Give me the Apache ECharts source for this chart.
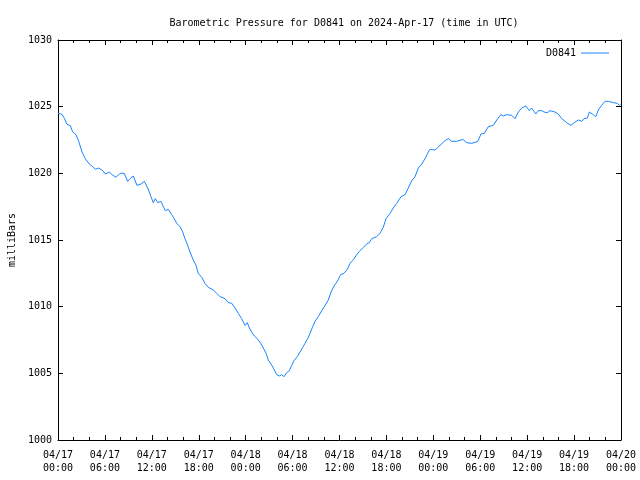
<!DOCTYPE html>
<html>
<head>
<meta charset="utf-8">
<script src="https://cdn.jsdelivr.net/npm/echarts@6/dist/echarts.min.js"></script>
<style>html,body{margin:0;padding:0;background:#fff}#c{width:640px;height:480px}</style>
</head>
<body>
<div id="c"></div>
<script>
// hours since 2024-04-17 00:00 UTC
const hours = [0.0,0.51,0.81,1.15,1.57,1.88,2.30,2.65,3.07,3.49,4.00,4.44,4.77,5.21,5.72,6.05,6.56,6.91,7.42,7.93,8.48,8.91,9.21,9.63,10.10,10.62,11.04,11.47,11.89,12.19,12.44,12.75,13.17,13.47,13.72,14.11,14.54,14.87,15.18,15.60,15.95,16.24,16.59,16.88,17.30,17.65,17.94,18.38,18.80,19.22,19.86,20.30,20.72,21.36,21.78,22.22,22.64,23.06,23.49,23.92,24.21,24.47,24.77,25.11,25.49,25.92,26.26,26.60,26.90,27.24,27.54,27.97,28.30,28.61,28.90,29.25,29.58,29.89,30.18,30.60,30.95,31.30,31.59,31.93,32.23,32.57,32.87,33.29,33.73,34.15,34.57,34.92,35.30,35.72,36.16,36.58,37.00,37.34,37.77,38.20,38.62,39.05,39.48,39.81,40.12,40.76,41.18,41.60,41.95,42.46,42.88,43.32,43.87,44.38,44.80,45.24,45.66,46.08,46.52,46.94,47.36,47.58,48.22,48.86,49.49,49.92,50.35,50.99,51.20,51.76,52.27,52.91,53.04,53.20,53.68,54.10,54.52,55.03,55.67,56.11,56.62,56.95,57.30,58.03,58.45,58.87,59.30,59.82,60.02,60.27,60.58,60.79,61.09,61.43,61.86,62.16,62.41,62.58,62.92,63.56,63.98,64.42,65.06,65.57,66.03,66.54,66.98,67.27,67.69,67.95,68.46,68.77,69.10,69.53,69.96,70.38,71.02,71.53,71.79,71.97];
const pressure = [1024.5,1024.43,1024.13,1023.68,1023.58,1023.1,1022.9,1022.4,1021.6,1021.1,1020.7,1020.5,1020.3,1020.4,1020.2,1019.95,1020.1,1019.9,1019.7,1020.0,1020.0,1019.4,1019.6,1019.8,1019.1,1019.2,1019.4,1018.9,1018.25,1017.8,1018.1,1017.8,1017.9,1017.5,1017.2,1017.3,1016.9,1016.6,1016.25,1016.0,1015.6,1015.1,1014.6,1014.1,1013.5,1013.1,1012.5,1012.2,1011.75,1011.45,1011.25,1011.0,1010.75,1010.6,1010.3,1010.25,1009.9,1009.5,1009.1,1008.6,1008.8,1008.4,1008.1,1007.8,1007.6,1007.25,1006.9,1006.5,1006.0,1005.7,1005.4,1004.9,1004.8,1004.9,1004.75,1005.05,1005.2,1005.6,1005.95,1006.25,1006.6,1006.95,1007.25,1007.6,1008.0,1008.5,1008.9,1009.25,1009.7,1010.1,1010.5,1011.1,1011.55,1011.9,1012.4,1012.5,1012.8,1013.25,1013.5,1013.9,1014.2,1014.45,1014.7,1014.8,1015.1,1015.25,1015.5,1015.95,1016.6,1017.0,1017.4,1017.75,1018.25,1018.4,1018.9,1019.45,1019.75,1020.4,1020.7,1021.1,1021.6,1021.8,1021.75,1022.1,1022.45,1022.6,1022.4,1022.4,1022.25,1022.55,1022.3,1022.25,1022.1,1022.3,1022.4,1022.95,1023.0,1023.5,1023.6,1024.0,1024.4,1024.3,1024.4,1024.35,1024.1,1024.6,1024.9,1025.05,1025.0,1024.7,1024.9,1024.95,1024.45,1024.7,1024.7,1024.6,1024.75,1024.55,1024.7,1024.6,1024.45,1024.1,1023.8,1023.6,1023.8,1024.0,1023.9,1024.1,1024.15,1024.6,1024.4,1024.25,1024.75,1025.1,1025.4,1025.4,1025.3,1025.25,1025.1,1025.2];
const titleText = 'Barometric Pressure for D0841 on 2024-Apr-17 (time in UTC)';
const seriesName = 'D0841';
const yName = 'milliBars';
const startMonth = '04';
const startDay = 17;

const FONT = 'DejaVu Sans Mono';
function pad(n){return (n<10?'0':'')+n;}
function xLabel(h){
  const d = startDay + Math.floor(h/24);
  const hh = Math.round(h % 24);
  return startMonth + '/' + pad(d) + '\n' + pad(hh) + ':00';
}
const data = hours.map((h,i)=>[h, pressure[i]]);
const axisLine = {show:true, onZero:false, lineStyle:{color:'#000', width:1}};
const chart = echarts.init(document.getElementById('c'), null, {renderer:'canvas'});
chart.setOption({
  animation:false,
  backgroundColor:'#fff',
  textStyle:{fontFamily:FONT},
  title:{text:titleText, left:339, top:13, textAlign:'center',
    textStyle:{fontFamily:FONT, fontSize:10, fontWeight:'normal', color:'#000'}},
  legend:{data:[{name:seriesName, icon:'rect'}], right:26, top:43, align:'right',
    itemWidth:28, itemHeight:1, itemGap:6,
    textStyle:{fontFamily:FONT, fontSize:10, color:'#000', padding:[0,0,0,0]}},
  grid:{left:58, right:19, top:40, bottom:40, containLabel:false, outerBoundsMode:'none'},
  xAxis:[{
    type:'value', min:0, max:72, interval:6, position:'bottom',
    axisLine:axisLine,
    axisTick:{show:true, inside:true, length:5, lineStyle:{color:'#000'}},
    minorTick:{show:true, splitNumber:3, length:3, lineStyle:{color:'#000'}},
    splitLine:{show:false},
    axisLabel:{formatter:xLabel, fontFamily:FONT, fontSize:10, color:'#000', lineHeight:13, margin:9,
      showMinLabel:true, showMaxLabel:true, hideOverlap:false}
  },{
    type:'value', min:0, max:72, interval:6, position:'top',
    axisLine:axisLine,
    axisTick:{show:true, inside:true, length:5, lineStyle:{color:'#000'}},
    minorTick:{show:true, splitNumber:3, length:3, lineStyle:{color:'#000'}},
    splitLine:{show:false}, axisLabel:{show:false}
  }],
  yAxis:[{
    type:'value', min:1000, max:1030, interval:5, position:'left',
    name:yName, nameLocation:'middle', nameRotate:90, nameGap:41,
    nameTextStyle:{fontFamily:FONT, fontSize:10, color:'#000'},
    axisLine:axisLine,
    axisTick:{show:true, inside:true, length:5, lineStyle:{color:'#000'}},
    splitLine:{show:false},
    axisLabel:{fontFamily:FONT, fontSize:10, color:'#000', margin:6, formatter:(v)=>String(v)}
  },{
    type:'value', min:1000, max:1030, interval:5, position:'right',
    axisLine:axisLine,
    axisTick:{show:true, inside:true, length:5, lineStyle:{color:'#000'}},
    splitLine:{show:false}, axisLabel:{show:false}
  }],
  series:[{
    name:seriesName, type:'line', data:data, xAxisIndex:0, yAxisIndex:0,
    showSymbol:false, symbol:'none', smooth:false,
    lineStyle:{color:'#1a85ff', width:1}, itemStyle:{color:'#1a85ff'}
  }]
});
</script>
</body>
</html>
